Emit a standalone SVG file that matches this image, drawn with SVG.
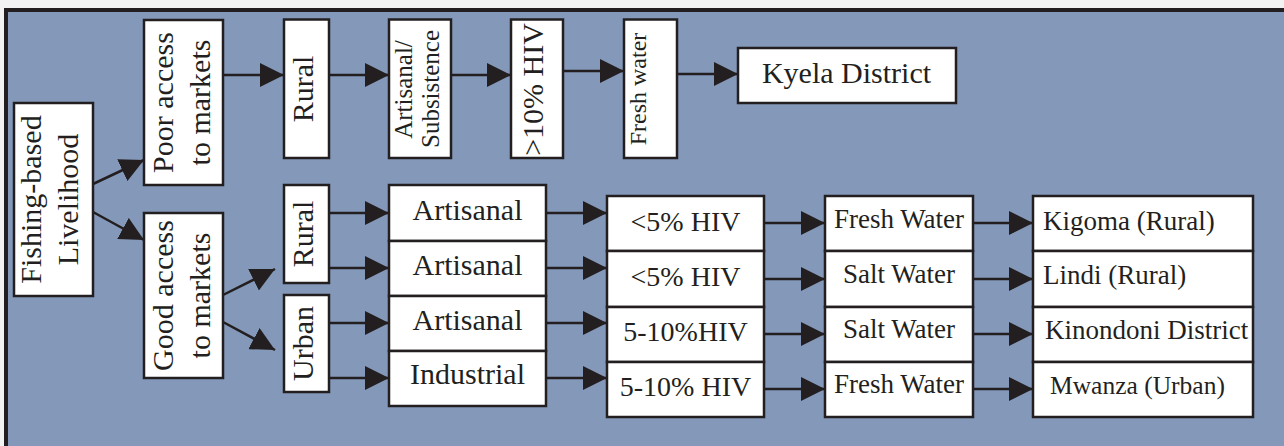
<svg xmlns="http://www.w3.org/2000/svg" width="1284" height="446" viewBox="0 0 1284 446">
  <style>
    .box { fill: #ffffff; stroke: #231f20; stroke-width: 2.5; }
    .t { font-family: "Liberation Serif", "Times New Roman", serif; fill: #231f20; }
    .c { text-anchor: middle; }
    .link { fill: none; stroke: #231f20; stroke-width: 2.5; marker-end: url(#head); }
  </style>
  <defs>
    <marker id="head" markerUnits="userSpaceOnUse" markerWidth="24" markerHeight="24" viewBox="0 0 24 24" refX="24" refY="12" orient="auto">
      <path d="M0,0 L24,12 L0,24 Z" fill="#231f20"/>
    </marker>
  </defs>

  <!-- page and framed panel -->
  <rect x="0" y="0" width="1284" height="446" fill="#f3f3f3"/>
  <rect x="6" y="10" width="1290" height="450" fill="#8499b9" stroke="#231f20" stroke-width="4"/>

  <!-- connectors -->
  <g id="connectors">
    <line class="link" x1="93" y1="184" x2="144" y2="160"/>
    <line class="link" x1="93" y1="212" x2="144" y2="240"/>

    <line class="link" x1="223" y1="75" x2="284" y2="75"/>
    <line class="link" x1="329" y1="75" x2="389" y2="75"/>
    <line class="link" x1="451" y1="75" x2="511" y2="75"/>
    <line class="link" x1="563" y1="71" x2="624" y2="71"/>
    <line class="link" x1="677" y1="74" x2="738" y2="74"/>

    <line class="link" x1="223" y1="295" x2="275" y2="269"/>
    <line class="link" x1="223" y1="322" x2="275" y2="350"/>

    <line class="link" x1="329" y1="213" x2="389" y2="213"/>
    <line class="link" x1="329" y1="268" x2="389" y2="268"/>
    <line class="link" x1="329" y1="323" x2="389" y2="323"/>
    <line class="link" x1="329" y1="378" x2="389" y2="378"/>

    <line class="link" x1="546" y1="213" x2="607" y2="213"/>
    <line class="link" x1="546" y1="268" x2="607" y2="268"/>
    <line class="link" x1="546" y1="323" x2="607" y2="323"/>
    <line class="link" x1="546" y1="378" x2="607" y2="378"/>

    <line class="link" x1="764" y1="223" x2="825" y2="223"/>
    <line class="link" x1="764" y1="279" x2="825" y2="279"/>
    <line class="link" x1="764" y1="334" x2="825" y2="334"/>
    <line class="link" x1="764" y1="389" x2="825" y2="389"/>

    <line class="link" x1="973" y1="223" x2="1033" y2="223"/>
    <line class="link" x1="973" y1="279" x2="1033" y2="279"/>
    <line class="link" x1="973" y1="334" x2="1033" y2="334"/>
    <line class="link" x1="973" y1="389" x2="1033" y2="389"/>
  </g>

  <!-- root -->
  <g id="livelihood">
    <rect class="box" x="14" y="103" width="79" height="193"/>
    <text class="t c" font-size="30" transform="translate(41,199.5) rotate(-90)">Fishing-based</text>
    <text class="t c" font-size="30" transform="translate(78,199.5) rotate(-90)">Livelihood</text>
  </g>

  <g id="poor-access">
    <rect class="box" x="144" y="20" width="79" height="165"/>
    <text class="t c" font-size="30" transform="translate(173,102.5) rotate(-90)">Poor access</text>
    <text class="t c" font-size="30" transform="translate(210,102.5) rotate(-90)">to markets</text>
  </g>

  <g id="good-access">
    <rect class="box" x="144" y="213" width="79" height="165"/>
    <text class="t c" font-size="30" transform="translate(173,295.5) rotate(-90)">Good access</text>
    <text class="t c" font-size="30" transform="translate(210,295.5) rotate(-90)">to markets</text>
  </g>

  <!-- poor-access branch -->
  <g id="rural-top">
    <rect class="box" x="284" y="19.5" width="45" height="138.5"/>
    <text class="t c" font-size="30" transform="translate(313,89) rotate(-90)">Rural</text>
  </g>
  <g id="subsistence">
    <rect class="box" x="389" y="19.5" width="62" height="138.5"/>
    <text class="t c" font-size="25" transform="translate(412,89.5) rotate(-90)">Artisanal/</text>
    <text class="t c" font-size="25" transform="translate(439,89) rotate(-90)">Subsistence</text>
  </g>
  <g id="hiv-high">
    <rect class="box" x="511" y="19.5" width="52" height="138.5"/>
    <text class="t c" font-size="30" transform="translate(543,89.5) rotate(-90)">&gt;10% HIV</text>
  </g>
  <g id="fresh-top">
    <rect class="box" x="624" y="19.5" width="53" height="138.5"/>
    <text class="t c" font-size="24" transform="translate(646,89) rotate(-90)">Fresh water</text>
  </g>
  <g id="kyela">
    <rect class="box" x="738" y="48" width="218" height="55"/>
    <text class="t c" font-size="30" x="846.5" y="83">Kyela District</text>
  </g>

  <!-- good-access branch -->
  <g id="rural-low">
    <rect class="box" x="284" y="185" width="45" height="98"/>
    <text class="t c" font-size="30" transform="translate(313,234) rotate(-90)">Rural</text>
  </g>
  <g id="urban">
    <rect class="box" x="284" y="295" width="45" height="97"/>
    <text class="t c" font-size="30" transform="translate(313,343.5) rotate(-90)">Urban</text>
  </g>

  <g id="sector-1">
    <rect class="box" x="389" y="185" width="157" height="56"/>
    <text class="t c" font-size="30" x="467.5" y="220">Artisanal</text>
  </g>
  <g id="sector-2">
    <rect class="box" x="389" y="241" width="157" height="55"/>
    <text class="t c" font-size="30" x="467.5" y="275">Artisanal</text>
  </g>
  <g id="sector-3">
    <rect class="box" x="389" y="296" width="157" height="55"/>
    <text class="t c" font-size="30" x="467.5" y="330">Artisanal</text>
  </g>
  <g id="sector-4">
    <rect class="box" x="389" y="351" width="157" height="55"/>
    <text class="t c" font-size="30" x="467.5" y="384">Industrial</text>
  </g>

  <g id="hiv-1">
    <rect class="box" x="607" y="196" width="157" height="55"/>
    <text class="t c" font-size="28" x="685.5" y="230.5">&lt;5% HIV</text>
  </g>
  <g id="hiv-2">
    <rect class="box" x="607" y="251" width="157" height="56"/>
    <text class="t c" font-size="28" x="685.5" y="286">&lt;5% HIV</text>
  </g>
  <g id="hiv-3">
    <rect class="box" x="607" y="307" width="157" height="55"/>
    <text class="t c" font-size="28" x="685.5" y="341">5-10%HIV</text>
  </g>
  <g id="hiv-4">
    <rect class="box" x="607" y="362" width="157" height="55"/>
    <text class="t c" font-size="28" x="685.5" y="396">5-10% HIV</text>
  </g>

  <g id="water-1">
    <rect class="box" x="825" y="196" width="148" height="55"/>
    <text class="t c" font-size="27" x="899" y="228">Fresh Water</text>
  </g>
  <g id="water-2">
    <rect class="box" x="825" y="251" width="148" height="56"/>
    <text class="t c" font-size="27" x="899" y="283">Salt Water</text>
  </g>
  <g id="water-3">
    <rect class="box" x="825" y="307" width="148" height="55"/>
    <text class="t c" font-size="27" x="899" y="338">Salt Water</text>
  </g>
  <g id="water-4">
    <rect class="box" x="825" y="362" width="148" height="55"/>
    <text class="t c" font-size="27" x="899" y="393">Fresh Water</text>
  </g>

  <g id="site-1">
    <rect class="box" x="1033" y="196" width="220" height="55"/>
    <text class="t" font-size="27" x="1043" y="229.5">Kigoma (Rural)</text>
  </g>
  <g id="site-2">
    <rect class="box" x="1033" y="251" width="220" height="56"/>
    <text class="t" font-size="27" x="1043" y="283.5">Lindi (Rural)</text>
  </g>
  <g id="site-3">
    <rect class="box" x="1033" y="307" width="220" height="55"/>
    <text class="t" font-size="27" x="1045" y="338.5">Kinondoni District</text>
  </g>
  <g id="site-4">
    <rect class="box" x="1033" y="362" width="220" height="55"/>
    <text class="t" font-size="25.5" x="1050" y="393.5">Mwanza (Urban)</text>
  </g>
</svg>
